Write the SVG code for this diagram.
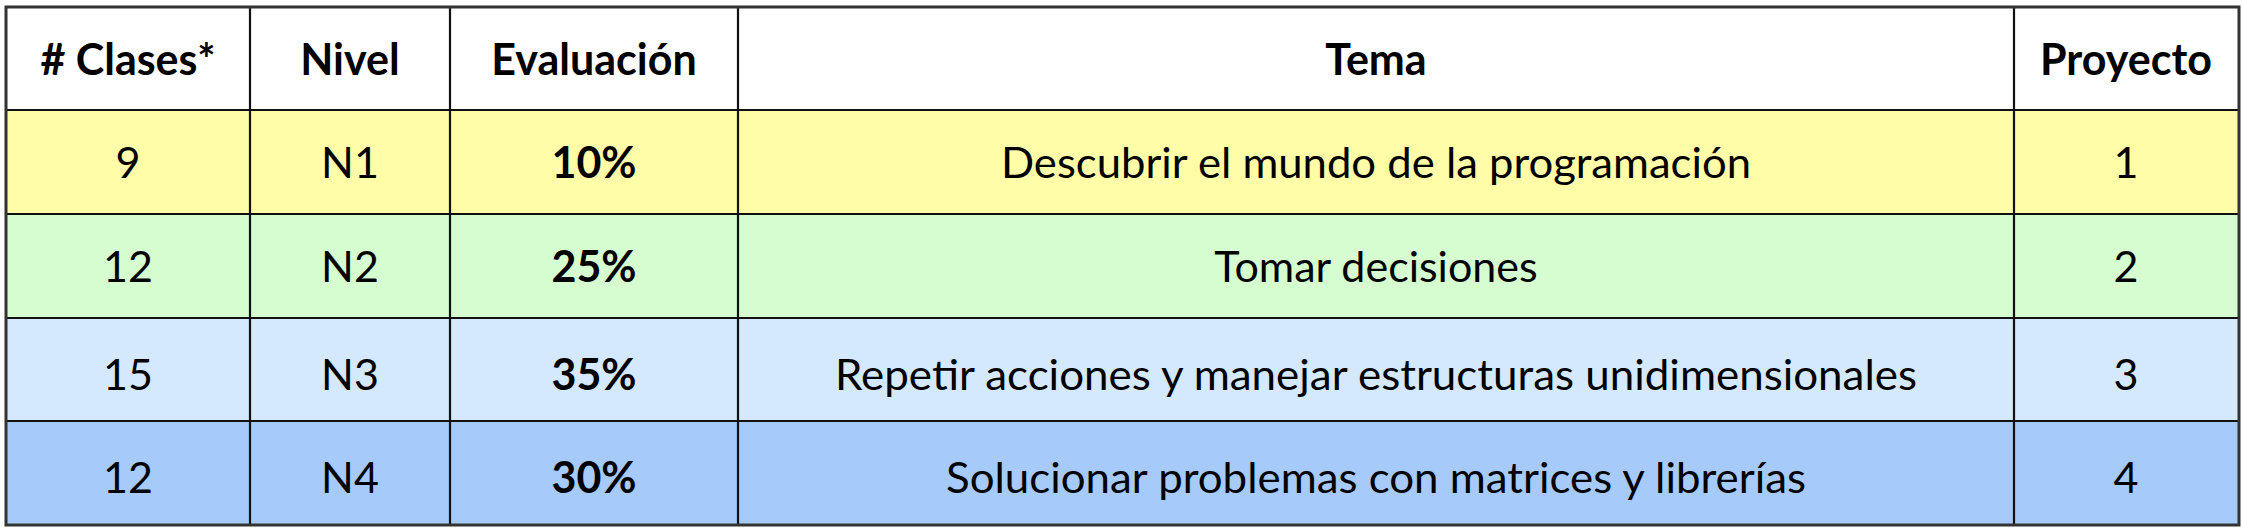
<svg xmlns="http://www.w3.org/2000/svg" width="2242" height="530" viewBox="0 0 2242 530">
<style>
  text { font-family: Lato, "Open Sans", "Liberation Sans", sans-serif; font-size: 43px; fill: #000; text-anchor: middle; }
  .b { font-weight: bold; }
  .grid { stroke: #111; stroke-width: 2.2; fill: none; }
  .outer { stroke: #333; stroke-width: 3; fill: none; }
</style>
<rect x="0" y="0" width="2242" height="530" fill="#fff"/>
<g id="header">
  <rect x="6" y="7" width="2233" height="103" fill="#ffffff"/>
  <text class="b" x="128" y="75"># Clases*</text>
  <text class="b" x="350" y="75">Nivel</text>
  <text class="b" x="594" y="75">Evaluación</text>
  <text class="b" x="1376" y="75">Tema</text>
  <text class="b" x="2126" y="75">Proyecto</text>
</g>
<g id="row-n1">
  <rect x="6" y="110" width="2233" height="104" fill="#fffda8"/>
  <text x="128" y="178">9</text>
  <text x="350" y="178">N1</text>
  <text class="b" x="594" y="178">10%</text>
  <text x="1376" y="178" textLength="750" lengthAdjust="spacingAndGlyphs">Descubrir el mundo de la programación</text>
  <text x="2126" y="178">1</text>
</g>
<g id="row-n2">
  <rect x="6" y="214" width="2233" height="104" fill="#d5fdd0"/>
  <text x="128" y="282">12</text>
  <text x="350" y="282">N2</text>
  <text class="b" x="594" y="282">25%</text>
  <text x="1376" y="282">Tomar decisiones</text>
  <text x="2126" y="282">2</text>
</g>
<g id="row-n3">
  <rect x="6" y="318" width="2233" height="103" fill="#d4e9fd"/>
  <text x="128" y="390">15</text>
  <text x="350" y="390">N3</text>
  <text class="b" x="594" y="390">35%</text>
  <text x="1376" y="390" textLength="1082" lengthAdjust="spacingAndGlyphs">Repetir acciones y manejar estructuras unidimensionales</text>
  <text x="2126" y="390">3</text>
</g>
<g id="row-n4">
  <rect x="6" y="421" width="2233" height="104" fill="#a6cbfa"/>
  <text x="128" y="493">12</text>
  <text x="350" y="493">N4</text>
  <text class="b" x="594" y="493">30%</text>
  <text x="1376" y="493" textLength="860" lengthAdjust="spacingAndGlyphs">Solucionar problemas con matrices y librerías</text>
  <text x="2126" y="493">4</text>
</g>
<g id="connectors">
  <path class="grid" d="M6 110H2239M6 214H2239M6 318H2239M6 421H2239M250 7V525M450 7V525M738 7V525M2014 7V525"/>
  <rect class="outer" x="6" y="7" width="2233" height="518"/>
</g>
</svg>
